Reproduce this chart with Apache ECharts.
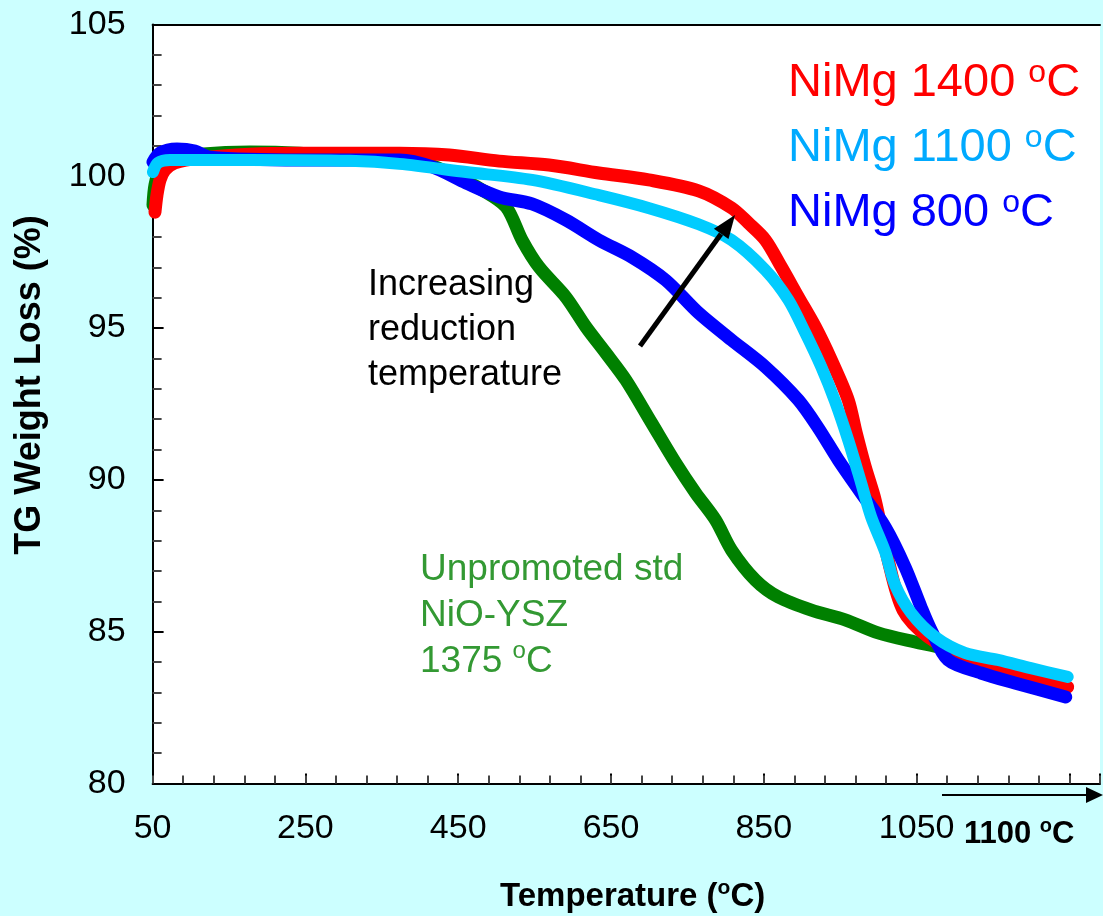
<!DOCTYPE html>
<html><head><meta charset="utf-8">
<script src="https://cdn.jsdelivr.net/npm/echarts@6/dist/echarts.min.js"></script>
<style>html,body{margin:0;padding:0;background:#CCFFFF}#c{width:1103px;height:916px}</style>
</head><body><div id="c"></div>
<script>
// ---- data (temperature axis value, TG weight %) ----
const xTickLabels = [50, 250, 450, 650, 850, 1050];
const yTickLabels = [80, 85, 90, 95, 100, 105];

const green_T = [50.5, 53.1, 59.7, 79.2, 111.9, 177.2, 242.5, 307.7, 373.0, 412.2, 438.3, 481.4, 512.7, 533.6, 555.8, 591.0, 617.1, 643.2, 669.4, 703.3, 734.6, 760.7, 786.8, 807.7, 839.0, 869.1, 912.2, 956.5, 999.6, 1047.9, 1077.9];
const green_V = [99.05, 99.71, 100.21, 100.60, 100.73, 100.80, 100.76, 100.63, 100.47, 100.37, 100.11, 99.55, 98.99, 97.90, 97.01, 96.02, 95.04, 94.18, 93.29, 91.87, 90.56, 89.57, 88.68, 87.69, 86.70, 86.14, 85.71, 85.39, 84.96, 84.66, 84.50];

const red_T = [53.1, 55.7, 59.7, 66.2, 79.2, 111.9, 177.2, 242.5, 373.0, 438.3, 503.6, 568.8, 634.1, 699.4, 764.6, 807.7, 829.9, 852.1, 873.0, 895.2, 917.4, 938.3, 960.5, 970.9, 982.7, 995.7, 1012.7, 1032.3, 1064.9, 1113.2, 1156.3, 1202.0, 1247.7];
const red_V = [98.82, 99.38, 99.88, 100.21, 100.44, 100.60, 100.73, 100.76, 100.76, 100.70, 100.50, 100.37, 100.11, 99.88, 99.52, 98.96, 98.46, 97.90, 97.01, 96.02, 95.04, 93.95, 92.63, 91.55, 90.43, 89.34, 87.36, 85.71, 84.83, 84.17, 83.84, 83.51, 83.18];

const blue_T = [50.5, 59.7, 81.9, 105.4, 124.9, 242.5, 373.0, 416.1, 460.4, 503.6, 546.6, 591.0, 634.1, 677.2, 721.5, 764.6, 807.7, 852.1, 895.2, 921.3, 947.4, 977.4, 1008.8, 1034.9, 1055.8, 1068.8, 1091.0, 1134.1, 1178.5, 1245.1];
const blue_V = [100.47, 100.77, 100.90, 100.83, 100.63, 100.54, 100.54, 100.31, 99.78, 99.32, 99.09, 98.56, 97.90, 97.34, 96.58, 95.50, 94.61, 93.72, 92.63, 91.71, 90.66, 89.57, 88.45, 87.13, 85.81, 85.06, 84.07, 83.64, 83.31, 82.85];

const cyan_T = [50.5, 57.0, 72.7, 177.2, 307.7, 373.0, 460.4, 546.6, 634.1, 700.0, 764.6, 807.7, 852.1, 882.1, 904.3, 925.2, 943.5, 960.5, 977.4, 990.5, 1008.8, 1021.8, 1042.7, 1074.1, 1113.2, 1156.3, 1199.4, 1247.7];
const cyan_V = [100.14, 100.44, 100.54, 100.54, 100.51, 100.41, 100.14, 99.88, 99.38, 98.95, 98.42, 97.90, 96.91, 95.93, 94.84, 93.72, 92.57, 91.31, 89.90, 88.78, 87.63, 86.54, 85.62, 84.83, 84.30, 84.07, 83.80, 83.51];

const FONT = 'Arial, "Liberation Sans", Helvetica, sans-serif';
const X_MIN = 50, X_MAX = 1290;
function pairs(t, v) { return t.map((x, i) => [x, v[i]]); }
function curve(name, t, v, color, w) {
  return { name, type: 'line', data: pairs(t, v), symbol: 'none', smooth: 0.3,
    lineStyle: { color, width: w, cap: 'round', join: 'round' }, silent: true };
}
function supText(x, y, main, fs, lh, supFs, color, bold) {
  const parts = main.split('°');
  return { type: 'text', x, y, z: 100,
    style: { text: '{a|' + parts[0] + '}{s|o}{a|' + parts[1] + '}', verticalAlign: 'top',
      rich: {
        a: { fontSize: fs, lineHeight: lh, fill: color, fontFamily: FONT, fontWeight: bold ? 'bold' : 'normal' },
        s: { fontSize: supFs, lineHeight: supFs, fill: color, fontFamily: FONT, fontWeight: bold ? 'bold' : 'normal', verticalAlign: 'top' }
      } } };
}

const chart = echarts.init(document.getElementById('c'));
chart.setOption({
  backgroundColor: '#CCFFFF',
  animation: false,
  grid: { left: 152.6, top: 24.5, right: 0, bottom: 132.5, show: true, backgroundColor: '#ffffff', borderWidth: 0 },
  xAxis: [{
    type: 'value', min: X_MIN, max: X_MAX, interval: 200,
    axisLine: { show: true, onZero: false, lineStyle: { color: '#000', width: 2 } },
    axisTick: { show: true, inside: true, length: 10, lineStyle: { color: '#000', width: 2 } },
    splitLine: { show: false },
    axisLabel: { fontSize: 34, color: '#000', fontFamily: FONT, margin: 28,
      formatter: v => xTickLabels.includes(v) ? String(v) : '' }
  }, {
    type: 'value', position: 'top', min: X_MIN, max: X_MAX,
    axisLine: { show: true, onZero: false, lineStyle: { color: '#000', width: 2 } },
    axisTick: { show: false }, axisLabel: { show: false }, splitLine: { show: false }
  }, {
    // minor ticks of the bottom axis
    type: 'value', position: 'bottom', min: X_MIN, max: X_MAX, interval: 40,
    axisLine: { show: false, onZero: false },
    axisTick: { show: true, inside: true, length: 8, lineStyle: { color: '#444', width: 2 } },
    axisLabel: { show: false }, splitLine: { show: false }
  }],
  yAxis: {
    type: 'value', min: 80, max: 105, interval: 5,
    axisLine: { show: true, onZero: false, lineStyle: { color: '#000', width: 2 } },
    axisTick: { show: true, inside: true, length: 11, lineStyle: { color: '#000', width: 2 } },
    minorTick: { show: true, splitNumber: 5, length: 9, lineStyle: { color: '#444', width: 2 } },
    splitLine: { show: false },
    axisLabel: { fontSize: 34, color: '#000', fontFamily: FONT, margin: 27,
      formatter: v => yTickLabels.includes(v) ? String(v) : '' }
  },
  series: [
    curve('Unpromoted std NiO-YSZ 1375 °C', green_T, green_V, '#008000', 13),
    curve('NiMg 1400 °C', red_T, red_V, '#FF0000', 13),
    curve('NiMg 800 °C', blue_T, blue_V, '#0000FF', 13),
    curve('NiMg 1100 °C', cyan_T, cyan_V, '#00CCFF', 12)
  ],
  graphic: [
    supText(788, 57.5, 'NiMg 1400 °C', 47, 52, 32, '#FF0000', false),
    supText(788, 122.5, 'NiMg 1100 °C', 47, 52, 32, '#00AAFF', false),
    supText(788, 187.5, 'NiMg 800 °C', 47, 52, 32, '#0000FF', false),
    { type: 'text', x: 368, y: 263, z: 100, style: { text: 'Increasing\nreduction\ntemperature', fontSize: 36, lineHeight: 45, fontFamily: FONT, fill: '#000', verticalAlign: 'top' } },
    { type: 'text', x: 420, y: 547, z: 100, style: {
      text: '{g|Unpromoted std}\n{g|NiO-YSZ}\n{g|1375 }{s|o}{g|C}', verticalAlign: 'top',
      rich: { g: { fontSize: 37, lineHeight: 46, fill: '#339933', fontFamily: FONT },
              s: { fontSize: 24, lineHeight: 24, fill: '#339933', fontFamily: FONT, verticalAlign: 'top' } } } },
    { type: 'polyline', z: 100, shape: { points: [[640, 346], [721, 234]] }, style: { stroke: '#000', lineWidth: 5, fill: null } },
    { type: 'polygon', z: 100, shape: { points: [[735, 215], [728.5, 239.1], [713.9, 228.7]] }, style: { fill: '#000' } },
    { type: 'polyline', z: 100, shape: { points: [[942, 795], [1090, 795]] }, style: { stroke: '#000', lineWidth: 2, fill: null } },
    { type: 'polygon', z: 100, shape: { points: [[1086, 787], [1103, 795], [1086, 803]] }, style: { fill: '#000' } },
    supText(964, 816, '1100 °C', 31, 36, 20, '#000', true),
    supText(500, 878, 'Temperature (°C)', 33, 38, 21, '#000', true),
    { type: 'text', x: 30, y: 385, rotation: Math.PI / 2, z: 100, style: { text: 'TG Weight Loss (%)', fontSize: 36, fontWeight: 'bold', fontFamily: FONT, fill: '#000', align: 'center', verticalAlign: 'middle' } }
  ]
});
</script></body></html>
